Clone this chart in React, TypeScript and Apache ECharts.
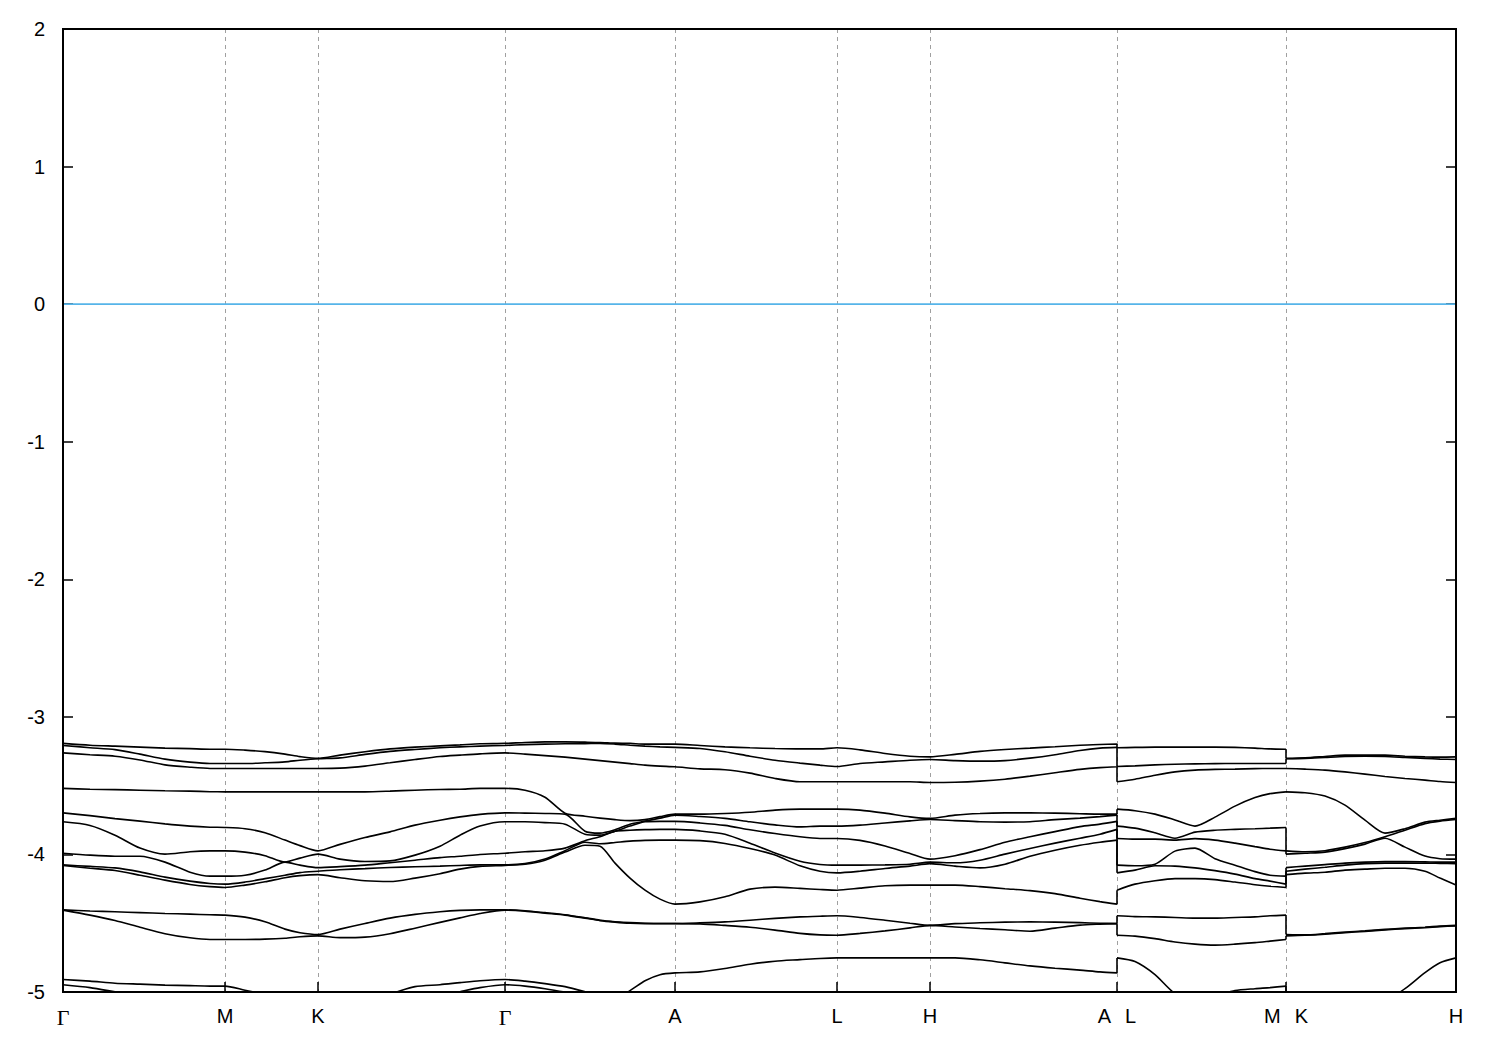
import React, { useEffect, useRef } from "react";
import * as echarts from "echarts";

// k-path coordinate of every sampled column (duplicated values mark path discontinuities A|L and M|K)
const K_PATH = [
  0, 0.027, 0.052, 0.077, 0.102, 0.127, 0.147, 0.162,
  0.182, 0.202, 0.222, 0.237, 0.255,
  0.277, 0.302, 0.327, 0.352, 0.377, 0.397, 0.417, 0.442,
  0.462, 0.482, 0.502, 0.522, 0.537, 0.552, 0.567, 0.582, 0.597, 0.612,
  0.637, 0.662, 0.687, 0.712, 0.737, 0.757, 0.774,
  0.797, 0.822, 0.847, 0.867,
  0.892, 0.917, 0.942, 0.967, 0.992, 1.017, 1.037, 1.054,
  1.054, 1.072, 1.092, 1.112, 1.132, 1.152, 1.172, 1.192, 1.207, 1.223,
  1.223, 1.242, 1.262, 1.282, 1.302, 1.322, 1.342, 1.362, 1.377, 1.393,
];

// high-symmetry points
const SYM_POS = [0, 0.162, 0.255, 0.442, 0.612, 0.774, 0.867, 1.054, 1.223, 1.393];
const SYM_LABELS = ["Γ", "M", "K", "Γ", "A", "L", "H", "A|L", "M|K", "H"];

// energy axis
const E_MIN = -5;
const E_MAX = 2;
const E_STEP = 1;
const FERMI = 0;

// band energies (eV) at every column; each column is sorted into bands in code
const BAND_A = [
  -3.193, -3.206, -3.213, -3.220, -3.227, -3.231, -3.235, -3.235,
  -3.242, -3.253, -3.271, -3.289, -3.302,
  -3.278, -3.254, -3.233, -3.220, -3.211, -3.204, -3.196, -3.193,
  -3.186, -3.182, -3.182, -3.184, -3.186, -3.191, -3.193, -3.198, -3.198, -3.198,
  -3.208, -3.218, -3.225, -3.230, -3.233, -3.233, -3.225,
  -3.240, -3.266, -3.286, -3.291,
  -3.273, -3.251, -3.237, -3.227, -3.217, -3.206, -3.201, -3.198,
  -3.225, -3.222, -3.220, -3.220, -3.220, -3.220, -3.222, -3.227, -3.233, -3.235,
  -3.302, -3.298, -3.288, -3.278, -3.278, -3.278, -3.286, -3.291, -3.293, -3.291,
];
const BAND_B = [
  -3.208, -3.224, -3.238, -3.271, -3.307, -3.329, -3.339, -3.339,
  -3.339, -3.334, -3.327, -3.315, -3.304,
  -3.298, -3.273, -3.251, -3.237, -3.225, -3.218, -3.213, -3.208,
  -3.202, -3.198, -3.196, -3.195, -3.193, -3.198, -3.206, -3.213, -3.218, -3.222,
  -3.230, -3.254, -3.286, -3.315, -3.336, -3.351, -3.361,
  -3.339, -3.327, -3.315, -3.310,
  -3.318, -3.322, -3.318, -3.300, -3.275, -3.244, -3.227, -3.222,
  -3.361, -3.356, -3.349, -3.344, -3.342, -3.340, -3.339, -3.339, -3.339, -3.339,
  -3.304, -3.302, -3.295, -3.288, -3.286, -3.288, -3.295, -3.302, -3.307, -3.310,
];
const BAND_C = [
  -3.262, -3.275, -3.286, -3.313, -3.349, -3.366, -3.375, -3.375,
  -3.375, -3.375, -3.375, -3.375, -3.375,
  -3.373, -3.358, -3.334, -3.310, -3.288, -3.278, -3.269, -3.262,
  -3.271, -3.282, -3.293, -3.307, -3.318, -3.329, -3.340, -3.351, -3.358, -3.363,
  -3.378, -3.384, -3.409, -3.448, -3.472, -3.472, -3.472,
  -3.472, -3.472, -3.472, -3.477,
  -3.475, -3.467, -3.453, -3.431, -3.406, -3.382, -3.369, -3.363,
  -3.472, -3.453, -3.424, -3.400, -3.387, -3.382, -3.380, -3.376, -3.375, -3.375,
  -3.375, -3.380, -3.387, -3.400, -3.416, -3.433, -3.448, -3.460, -3.470, -3.477,
];
const BAND_D = [
  -3.520, -3.526, -3.529, -3.533, -3.537, -3.540, -3.544, -3.545,
  -3.545, -3.545, -3.545, -3.545, -3.545,
  -3.545, -3.545, -3.540, -3.533, -3.528, -3.526, -3.520, -3.520,
  -3.533, -3.584, -3.700, -3.831, -3.940, -4.063, -4.172, -4.260, -4.325, -4.361,
  -4.345, -4.308, -4.252, -4.238, -4.247, -4.255, -4.260,
  -4.245, -4.228, -4.223, -4.223,
  -4.223, -4.234, -4.249, -4.263, -4.285, -4.318, -4.343, -4.361,
  -3.671, -3.682, -3.707, -3.749, -3.794, -3.729, -3.649, -3.587, -3.558, -3.545,
  -3.545, -3.552, -3.576, -3.642, -3.751, -3.845, -3.947, -4.012, -4.031, -4.034,
];
const BAND_E = [
  -3.698, -3.718, -3.740, -3.758, -3.778, -3.794, -3.802, -3.804,
  -3.813, -3.842, -3.896, -3.936, -3.974,
  -3.927, -3.877, -3.836, -3.787, -3.751, -3.727, -3.709, -3.698,
  -3.700, -3.702, -3.707, -3.722, -3.736, -3.747, -3.754, -3.758, -3.760, -3.760,
  -3.707, -3.702, -3.693, -3.678, -3.671, -3.671, -3.671,
  -3.678, -3.700, -3.727, -3.738,
  -3.714, -3.702, -3.698, -3.698, -3.700, -3.704, -3.707, -3.707,
  -3.794, -3.809, -3.843, -3.882, -3.838, -3.824, -3.818, -3.813, -3.809, -3.804,
  -3.974, -3.981, -3.973, -3.947, -3.914, -3.872, -3.813, -3.765, -3.751, -3.746,
];
const BAND_F = [
  -3.763, -3.789, -3.860, -3.954, -4.056, -4.129, -4.158, -4.158,
  -4.151, -4.114, -4.056, -4.027, -3.998,
  -4.034, -4.051, -4.047, -4.005, -3.940, -3.860, -3.794, -3.763,
  -3.763, -3.769, -3.780, -3.853, -3.845, -3.831, -3.824, -3.820, -3.818, -3.818,
  -3.724, -3.738, -3.763, -3.785, -3.800, -3.794, -3.794,
  -3.787, -3.771, -3.756, -3.746,
  -3.754, -3.762, -3.765, -3.762, -3.747, -3.736, -3.725, -3.714,
  -3.884, -3.889, -3.889, -3.896, -3.885, -3.896, -3.918, -3.943, -3.962, -3.974,
  -3.998, -3.991, -3.983, -3.958, -3.925, -3.882, -3.824, -3.776, -3.758, -3.738,
];
const BAND_G = [
  -3.991, -4.005, -4.013, -4.013, -3.998, -3.980, -3.974, -3.974,
  -3.983, -4.009, -4.056, -4.078, -4.096,
  -4.089, -4.078, -4.060, -4.042, -4.023, -4.013, -4.000, -3.991,
  -3.980, -3.973, -3.954, -3.933, -3.922, -3.913, -3.903, -3.898, -3.896, -3.896,
  -3.771, -3.789, -3.821, -3.848, -3.872, -3.884, -3.884,
  -3.898, -3.938, -3.993, -4.034,
  -4.009, -3.965, -3.911, -3.871, -3.834, -3.798, -3.780, -3.760,
  -4.078, -4.082, -4.082, -4.085, -4.098, -4.118, -4.143, -4.176, -4.194, -4.216,
  -4.096, -4.085, -4.074, -4.063, -4.056, -4.052, -4.052, -4.054, -4.056, -4.056,
];
const BAND_H = [
  -4.076, -4.087, -4.098, -4.127, -4.165, -4.194, -4.211, -4.216,
  -4.201, -4.176, -4.151, -4.132, -4.122,
  -4.111, -4.103, -4.095, -4.090, -4.085, -4.080, -4.076, -4.076,
  -4.067, -4.034, -3.973, -3.900, -3.860, -3.820, -3.780, -3.747, -3.725, -3.707,
  -3.829, -3.853, -3.918, -3.989, -4.049, -4.073, -4.078,
  -4.078, -4.076, -4.071, -4.056,
  -4.061, -4.042, -3.998, -3.957, -3.918, -3.882, -3.853, -3.818,
  -4.134, -4.114, -4.071, -3.976, -3.954, -4.031, -4.078, -4.125, -4.151, -4.158,
  -4.122, -4.107, -4.093, -4.078, -4.067, -4.063, -4.063, -4.063, -4.065, -4.067,
];
const BAND_I = [
  -4.080, -4.100, -4.117, -4.151, -4.187, -4.218, -4.234, -4.240,
  -4.223, -4.199, -4.169, -4.154, -4.147,
  -4.169, -4.191, -4.197, -4.172, -4.140, -4.107, -4.087, -4.080,
  -4.071, -4.042, -3.983, -3.911, -3.871, -3.831, -3.794, -3.762, -3.736, -3.714,
  -3.900, -3.920, -3.957, -4.005, -4.083, -4.122, -4.134,
  -4.122, -4.102, -4.085, -4.067,
  -4.085, -4.098, -4.071, -4.013, -3.969, -3.933, -3.911, -3.896,
  -4.260, -4.216, -4.191, -4.176, -4.176, -4.183, -4.201, -4.220, -4.231, -4.240,
  -4.147, -4.136, -4.129, -4.114, -4.107, -4.100, -4.100, -4.122, -4.172, -4.223,
];
const BAND_J = [
  -4.403, -4.411, -4.417, -4.423, -4.429, -4.434, -4.439, -4.441,
  -4.456, -4.490, -4.543, -4.569, -4.582,
  -4.543, -4.502, -4.463, -4.436, -4.417, -4.407, -4.403, -4.403,
  -4.409, -4.423, -4.438, -4.460, -4.478, -4.489, -4.496, -4.500, -4.502, -4.502,
  -4.505, -4.516, -4.529, -4.550, -4.574, -4.585, -4.587,
  -4.574, -4.556, -4.534, -4.516,
  -4.527, -4.538, -4.548, -4.558, -4.536, -4.514, -4.507, -4.503,
  -4.446, -4.452, -4.454, -4.458, -4.463, -4.463, -4.458, -4.454, -4.446, -4.441,
  -4.582, -4.585, -4.576, -4.565, -4.556, -4.545, -4.536, -4.529, -4.521, -4.516,
];
const BAND_K = [
  -4.405, -4.441, -4.480, -4.529, -4.576, -4.606, -4.618, -4.618,
  -4.618, -4.616, -4.609, -4.598, -4.592,
  -4.605, -4.601, -4.576, -4.536, -4.494, -4.461, -4.429, -4.405,
  -4.412, -4.427, -4.441, -4.463, -4.481, -4.492, -4.500, -4.503, -4.503, -4.503,
  -4.497, -4.490, -4.478, -4.465, -4.454, -4.449, -4.446,
  -4.458, -4.478, -4.500, -4.516,
  -4.503, -4.497, -4.492, -4.490, -4.492, -4.496, -4.500, -4.503,
  -4.587, -4.594, -4.612, -4.636, -4.652, -4.659, -4.652, -4.641, -4.630, -4.618,
  -4.592, -4.588, -4.580, -4.569, -4.559, -4.549, -4.540, -4.532, -4.525, -4.520,
];
const BAND_L = [
  -4.909, -4.921, -4.936, -4.943, -4.950, -4.954, -4.957, -4.957,
  -4.987, -5.016, -5.045, -5.059, -5.074,
  -5.059, -5.041, -5.012, -4.961, -4.947, -4.932, -4.918, -4.909,
  -4.921, -4.939, -4.961, -4.998, -5.030, -5.045, -4.990, -4.918, -4.874, -4.861,
  -4.854, -4.829, -4.798, -4.776, -4.765, -4.756, -4.752,
  -4.752, -4.752, -4.752, -4.752,
  -4.752, -4.766, -4.788, -4.810, -4.827, -4.841, -4.854, -4.861,
  -4.752, -4.779, -4.874, -5.012, -5.059, -5.030, -4.990, -4.976, -4.968, -4.957,
  -5.074, -5.081, -5.081, -5.074, -5.059, -5.059, -4.976, -4.859, -4.787, -4.752,
];
const BAND_M = [
  -4.947, -4.968, -4.999, -5.030, -5.052, -5.074, -5.081, -5.088,
  -5.103, -5.117, -5.132, -5.139, -5.146,
  -5.132, -5.117, -5.095, -5.066, -5.030, -4.998, -4.968, -4.947,
  -4.957, -4.976, -5.001, -5.030, -5.059, -5.088, -5.103, -5.117, -5.132, -5.146,
  -5.146, -5.146, -5.146, -5.146, -5.146, -5.146, -5.146,
  -5.146, -5.146, -5.146, -5.146,
  -5.146, -5.146, -5.146, -5.146, -5.146, -5.146, -5.146, -5.146,
  -5.146, -5.146, -5.146, -5.146, -5.146, -5.146, -5.146, -5.146, -5.146, -5.146,
  -5.146, -5.146, -5.146, -5.146, -5.146, -5.146, -5.146, -5.146, -5.146, -5.146,
];

const ROWS = [BAND_A, BAND_B, BAND_C, BAND_D, BAND_E, BAND_F, BAND_G, BAND_H, BAND_I, BAND_J, BAND_K, BAND_L, BAND_M];

export default function App() {
  const ref = useRef<HTMLDivElement>(null);

  useEffect(() => {
    if (!ref.current) return;
    const chart = echarts.init(ref.current, null, { renderer: "svg" });

    const nCol = K_PATH.length;
    const bands: number[][] = ROWS.map(() => []);
    for (let c = 0; c < nCol; c++) {
      const vals = ROWS.map((r) => r[c]).sort((a, b) => b - a);
      vals.forEach((v, i) => bands[i].push(v));
    }
    // discontinuities (repeated k)
    const breaks: number[] = [];
    for (let c = 0; c < nCol - 1; c++) if (K_PATH[c] === K_PATH[c + 1]) breaks.push(c);
    const pieces: [number, number][] = [];
    let start = 0;
    breaks.forEach((b) => {
      pieces.push([start, b]);
      start = b + 1;
    });
    pieces.push([start, nCol - 1]);

    const bandStyle = { color: "#000", width: 1.6 };
    const series: any[] = [];
    bands.forEach((band) => {
      pieces.forEach(([s, e]) => {
        series.push({
          type: "line",
          data: band.slice(s, e + 1).map((v, j) => [K_PATH[s + j], v]),
          smooth: 0.25,
          showSymbol: false,
          silent: true,
          z: 3,
          lineStyle: bandStyle,
        });
      });
      breaks.forEach((b) => {
        series.push({
          type: "line",
          data: [
            [K_PATH[b], band[b]],
            [K_PATH[b + 1], band[b + 1]],
          ],
          showSymbol: false,
          silent: true,
          z: 3,
          lineStyle: bandStyle,
        });
      });
    });
    series.push({
      type: "line",
      data: [
        [SYM_POS[0], FERMI],
        [SYM_POS[SYM_POS.length - 1], FERMI],
      ],
      showSymbol: false,
      silent: true,
      z: 4,
      lineStyle: { color: "#56b4e9", width: 1.6 },
    });

    const labelFor = (v: number) => {
      const idx = SYM_POS.findIndex((p) => Math.abs(p - v) < 1e-6);
      const lab = idx >= 0 ? SYM_LABELS[idx] : "";
      if (lab === "Γ") return "{g|Γ}";
      if (lab.includes("|")) return lab.replace("|", "\u2002\u2009");
      return lab;
    };

    const yCommon = {
      type: "value",
      min: E_MIN,
      max: E_MAX,
      interval: E_STEP,
      axisLine: { show: false },
      splitLine: { show: false },
      axisTick: { show: true, inside: true, length: 10, lineStyle: { color: "#000", width: 1.5 } },
    };

    chart.setOption({
      animation: false,
      backgroundColor: "#fff",
      grid: {
        left: 63,
        right: 44,
        top: 29,
        bottom: 58,
        show: true,
        borderColor: "#000",
        borderWidth: 2,
        backgroundColor: "rgba(0,0,0,0)",
        z: 5,
      },
      xAxis: {
        type: "value",
        min: SYM_POS[0],
        max: SYM_POS[SYM_POS.length - 1],
        axisLine: { show: false, onZero: false },
        splitLine: { show: true, lineStyle: { color: "#a0a0a0", type: [4, 4], width: 1 } },
        axisTick: {
          show: true,
          inside: true,
          length: 10,
          customValues: SYM_POS,
          lineStyle: { color: "#000", width: 1.5 },
        },
        axisLabel: {
          customValues: SYM_POS,
          formatter: labelFor,
          fontSize: 20,
          color: "#000",
          fontFamily: "Liberation Sans",
          margin: 14,
          rich: {
            g: { fontFamily: "Liberation Serif", fontSize: 22, color: "#000" },
          },
        },
      },
      yAxis: [
        {
          ...yCommon,
          position: "left",
          axisLabel: { fontSize: 20, color: "#000", fontFamily: "Liberation Sans", margin: 18 },
        },
        {
          ...yCommon,
          position: "right",
          axisLabel: { show: false },
        },
      ],
      series,
    });

    return () => chart.dispose();
  }, []);

  return (
    <div
      ref={ref}
      style={{ position: "absolute", left: 0, top: 0, width: 1500, height: 1050, background: "#fff" }}
    />
  );
}
